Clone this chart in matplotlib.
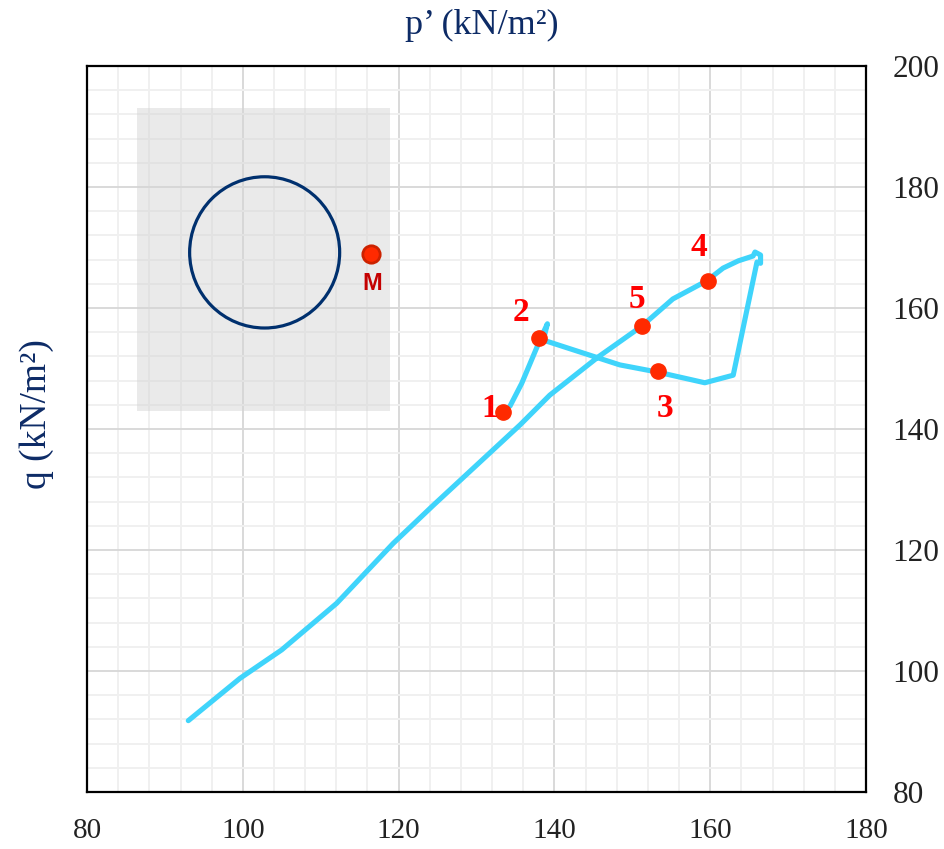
import matplotlib
matplotlib.use("Agg")
import matplotlib.pyplot as plt
from matplotlib.patches import Rectangle, Ellipse
from matplotlib.ticker import MultipleLocator

# Stress path (p', q) in kN/m^2
path_p = [134.3, 135.8, 138.3, 139.1, 138.57, 148.4, 153.3, 159.3, 162.95,
          166.0, 166.46, 166.46, 165.75, 165.5, 163.6, 161.65, 159.55, 155.2,
          151.2, 145.6, 139.4, 135.6, 124.45, 119.3, 112.05, 104.99, 99.64, 93.0]
path_q = [143.8, 147.55, 155.2, 157.4, 154.7, 150.6, 149.4, 147.65, 148.9,
          167.6, 167.4, 168.76, 169.26, 168.6, 167.8, 166.6, 164.5, 161.5,
          157.0, 151.9, 145.6, 140.7, 127.4, 121.1, 111.2, 103.5, 98.8, 91.8]

# Numbered stages along the path
stage_labels = ["1", "2", "3", "4", "5"]
stage_p = [133.4, 138.05, 153.35, 159.7, 151.3]
stage_q = [142.8, 155.1, 149.6, 164.5, 157.0]
stage_offsets_px = [(-13, 4), (-18, 25), (7, -38), (-9, 33), (-6, 27)]

# Mohr-type circle and marker M in the shaded panel
panel_p = [86.4, 118.9]
panel_q = [143.0, 193.1]
circle_center = (102.8, 169.2)
circle_size = (19.26, 25.0)
m_point = (116.5, 168.9)

x_ticks = [80, 100, 120, 140, 160, 180]
y_ticks = [80, 100, 120, 140, 160, 180, 200]

navy = "#0d2b66"
cyan = "#3fd4fb"
red = "#ff2a00"

fig = plt.figure(figsize=(9.44, 8.49), dpi=100)
ax = fig.add_axes([0.0922, 0.0671, 0.8252, 0.8551])

ax.set_xlim(x_ticks[0], x_ticks[-1])
ax.set_ylim(y_ticks[0], y_ticks[-1])
ax.set_xticks(x_ticks)
ax.set_yticks(y_ticks)
ax.xaxis.set_minor_locator(MultipleLocator(4))
ax.yaxis.set_minor_locator(MultipleLocator(4))
ax.grid(True, which="major", color="#d9d9d9", linewidth=1.4)
ax.grid(True, which="minor", color="#f0f0f0", linewidth=1.4)
ax.set_axisbelow(True)

for s in ax.spines.values():
    s.set_color("black")
    s.set_linewidth(1.6)

ax.yaxis.tick_right()
ax.yaxis.set_label_position("left")
ax.xaxis.set_label_position("top")
ax.tick_params(axis="both", which="both", length=0)
ax.tick_params(axis="x", pad=19)
ax.tick_params(axis="y", pad=19)
for lab in ax.get_xticklabels():
    lab.set_fontfamily("Liberation Serif")
    lab.set_fontsize(21)
    lab.set_color("#222222")
for lab in ax.get_yticklabels():
    lab.set_fontfamily("Liberation Serif")
    lab.set_fontsize(22.5)
    lab.set_color("#222222")

ax.set_xlabel("p’ (kN/m²)", fontfamily="Liberation Serif", fontsize=26,
              color=navy)
ax.set_ylabel("q (kN/m²)", fontfamily="Liberation Serif", fontsize=27,
              color=navy)
ax.xaxis.set_label_coords(0.507, 1.0565)
ax.yaxis.set_label_coords(-0.064, 0.52)
ax.xaxis.label.set_va("center")
ax.yaxis.label.set_va("center")

# Shaded panel with circle and M marker
ax.add_patch(Rectangle((panel_p[0], panel_q[0]), panel_p[1] - panel_p[0],
                       panel_q[1] - panel_q[0], facecolor="#d6d6d6",
                       alpha=0.5, edgecolor="none", zorder=1))
ax.add_patch(Ellipse(circle_center, circle_size[0], circle_size[1],
                     facecolor="none", edgecolor="#00306e", linewidth=2.3,
                     zorder=3))
ax.plot([m_point[0]], [m_point[1]], "o", markersize=12.5,
        markerfacecolor="#ff2a00", markeredgecolor="#cc2200",
        markeredgewidth=2, zorder=4)
ax.annotate("M", m_point, xytext=(1, -29), textcoords="offset pixels",
            ha="center", va="center", fontfamily="Liberation Sans",
            fontweight="bold", fontsize=17, color="#c40000", zorder=4)

# Stress path
ax.plot(path_p, path_q, color=cyan, linewidth=3.7, solid_capstyle="round",
        solid_joinstyle="round", zorder=3)

# Stage markers and labels
ax.plot(stage_p, stage_q, "o", linestyle="none", markersize=11,
        color=red, zorder=5)
for lab, p, q, off in zip(stage_labels, stage_p, stage_q, stage_offsets_px):
    ax.annotate(lab, (p, q), xytext=off, textcoords="offset pixels",
                ha="center", va="center", fontfamily="Liberation Serif",
                fontweight="bold", fontsize=24, color="#ff0000", zorder=6)

fig.savefig("out.png", dpi=100)
